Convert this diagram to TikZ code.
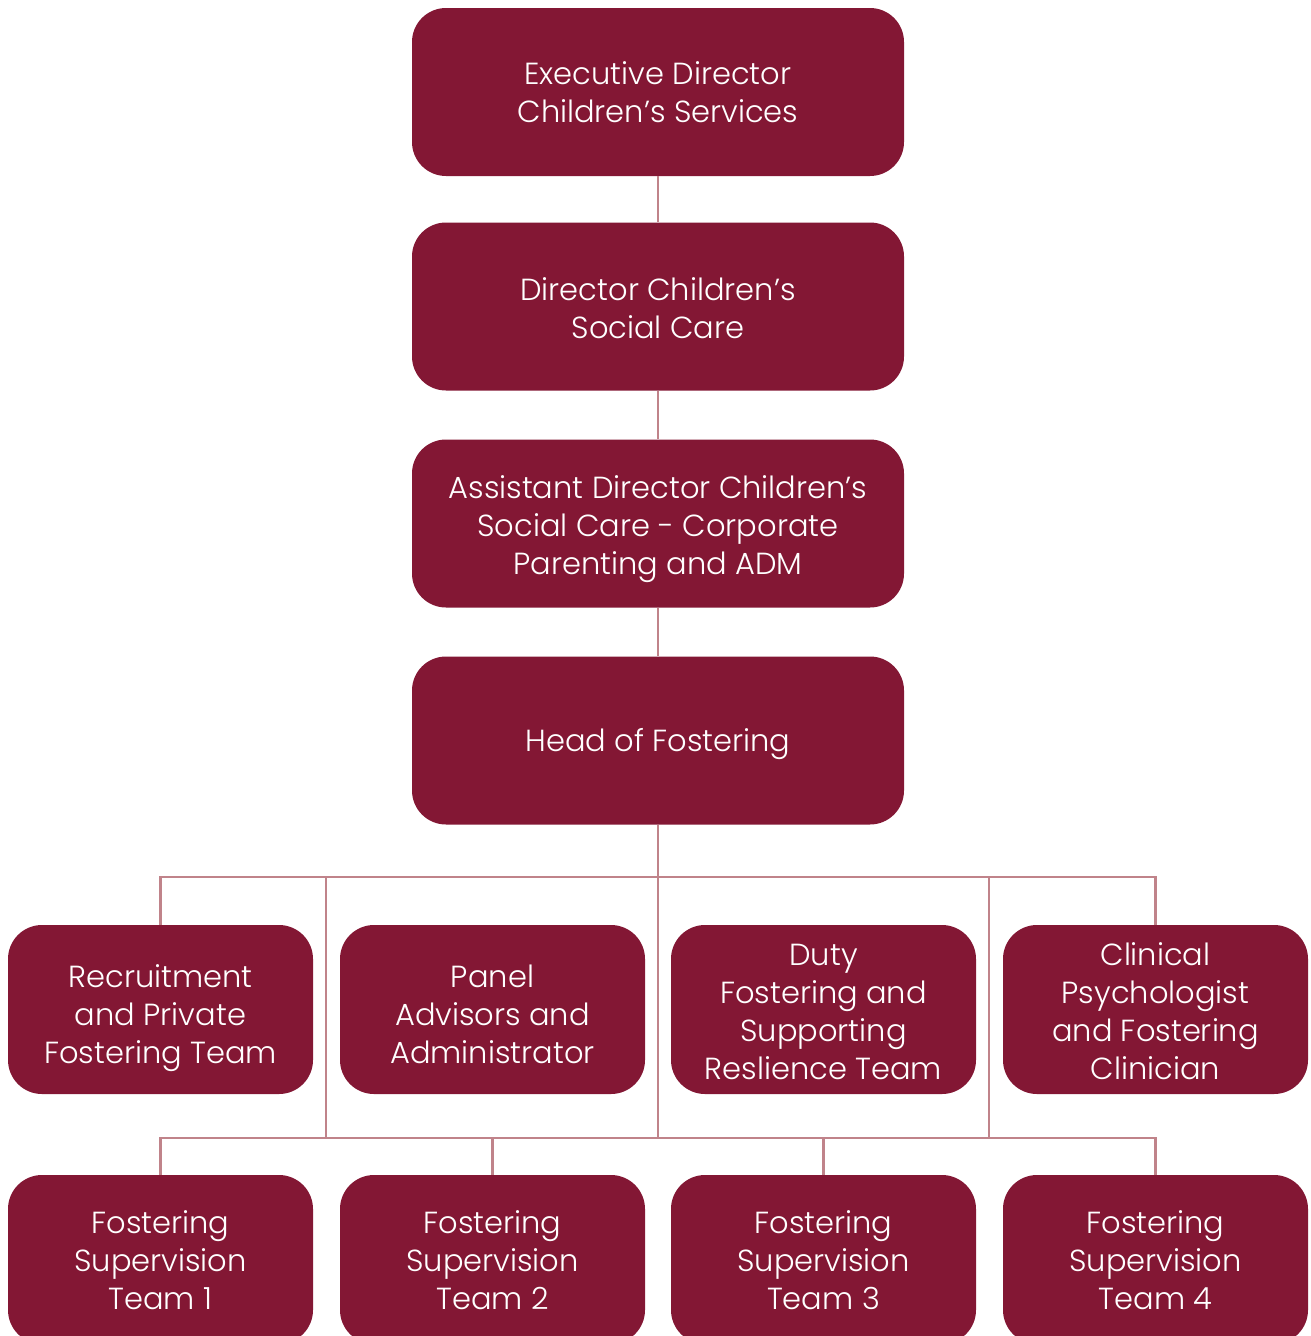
\documentclass[tikz,border=0pt]{standalone}
\usepackage{fontspec}
\IfFontExistsTF{Poppins Light}{\setmainfont{Poppins Light}}{\setmainfont{Poppins}}
\definecolor{boxred}{HTML}{831734}
\definecolor{linepink}{HTML}{C0838A}
\newcommand\orgbox[5]{%
  \node[#1] (#2) at (#3) {};
  \node[txt, yshift=-#4pt] (#2-t) at (#2.center) {#5};}
\begin{document}
\begin{tikzpicture}[x=1pt,y=-1pt,
  box/.style={rectangle, rounded corners=34pt, fill=boxred, inner sep=0pt},
  txt/.style={text=white, align=center, inner sep=0pt, font=\fontsize{30.5}{38}\selectfont},
  topbox/.style={box, minimum width=492pt, minimum height=168pt},
  smallbox/.style={box, minimum width=305pt, minimum height=169pt},
  conn/.style={draw=linepink, line width=2.2pt}]
\useasboundingbox (0,0) rectangle (1310,1336);
\clip (0,0) rectangle (1310,1336);
\orgbox{topbox}{exec}{658,92}{0}{Executive Director\\Children’s Services}
\orgbox{topbox}{dir}{658,306.5}{1.5}{Director Children’s\\Social Care}
\orgbox{topbox}{asst}{658,523.5}{5.5}{Assistant Director Children’s\\Social Care - Corporate\\Parenting and ADM}
\orgbox{topbox}{head}{658,740.5}{4}{Head of Fostering}
\orgbox{smallbox}{r1a}{160.5,1009.5}{8.5}{Recruitment\\and Private\\Fostering Team}
\orgbox{smallbox}{r1b}{492.5,1009.5}{5}{Panel\\Advisors and\\Administrator}
\orgbox{smallbox}{r1c}{823.5,1009.5}{2}{Duty\\Fostering and\\Supporting\\Reslience Team}
\orgbox{smallbox}{r1d}{1155.5,1009.5}{2}{Clinical\\Psychologist\\and Fostering\\Clinician}
\orgbox{smallbox}{r2a}{160.5,1259.5}{0.5}{Fostering\\Supervision\\Team 1}
\orgbox{smallbox}{r2b}{492.5,1259.5}{0.5}{Fostering\\Supervision\\Team 2}
\orgbox{smallbox}{r2c}{823.5,1259.5}{0.5}{Fostering\\Supervision\\Team 3}
\orgbox{smallbox}{r2d}{1155.5,1259.5}{0.5}{Fostering\\Supervision\\Team 4}
\coordinate (bus1) at (658,877);
\coordinate (bus2) at (658,1138);
\coordinate (la) at (326,877);
\coordinate (lb) at (326,1138);
\coordinate (ra) at (989,877);
\coordinate (rb) at (989,1138);
\draw[conn] (exec.south) -- (dir.north);
\draw[conn] (dir.south) -- (asst.north);
\draw[conn] (asst.south) -- (head.north);
\draw[conn] (head.south) -- (bus2);
\draw[conn] (r1a.north) -- (r1a.north |- bus1) -- (r1d.north |- bus1) -- (r1d.north);
\draw[conn] (la) -- (lb);
\draw[conn] (ra) -- (rb);
\draw[conn] (r2a.north) -- (r2a.north |- bus2) -- (r2d.north |- bus2) -- (r2d.north);
\draw[conn] (r2b.north) -- (r2b.north |- bus2);
\draw[conn] (r2c.north) -- (r2c.north |- bus2);
\end{tikzpicture}
\end{document}
